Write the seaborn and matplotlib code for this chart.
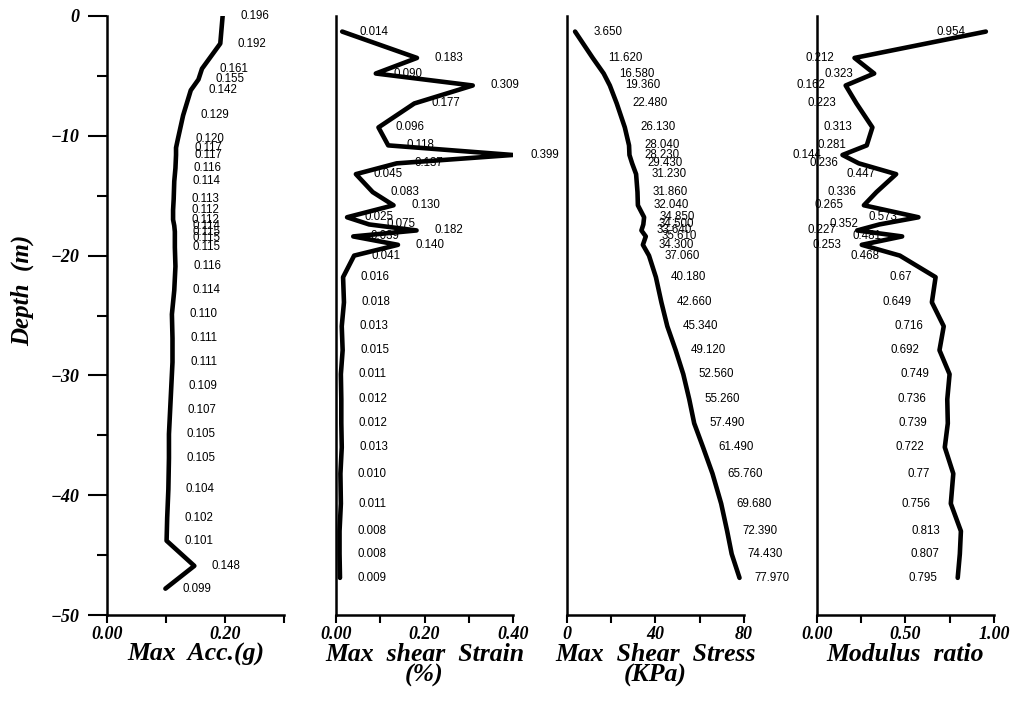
import seaborn as sns
import matplotlib.pyplot as plt
import numpy as np

# depth of the points (m), panel 1 is given at layer boundaries
depth_acc = [0, -2.3, -4.4, -5.3, -6.2, -8.3, -10.3, -11.0, -11.6, -12.7, -13.8,
             -15.3, -16.2, -17.0, -17.5, -18.0, -18.5, -19.3, -20.9, -22.9, -24.9,
             -26.9, -28.9, -30.9, -32.9, -34.9, -36.9, -39.5, -41.9, -43.8, -45.9, -47.8]
max_acc = [0.196, 0.192, 0.161, 0.155, 0.142, 0.129, 0.120, 0.117, 0.117, 0.116, 0.114,
           0.113, 0.112, 0.112, 0.114, 0.115, 0.115, 0.115, 0.116, 0.114, 0.110,
           0.111, 0.111, 0.109, 0.107, 0.105, 0.105, 0.104, 0.102, 0.101, 0.148, 0.099]

# mid-layer depths for the other three panels
depth_mid = [-1.3, -3.5, -4.8, -5.8, -7.3, -9.3, -10.8, -11.6, -12.3, -13.2, -14.7,
             -15.8, -16.8, -17.4, -17.9, -18.4, -19.1, -20.0, -21.8, -23.9, -25.9,
             -27.9, -29.9, -32.0, -34.0, -36.0, -38.2, -40.7, -43.0, -44.9, -46.9]
shear_strain = [0.014, 0.183, 0.090, 0.309, 0.177, 0.096, 0.118, 0.399, 0.137, 0.045, 0.083,
                0.130, 0.025, 0.075, 0.182, 0.039, 0.140, 0.041, 0.016, 0.018, 0.013,
                0.015, 0.011, 0.012, 0.012, 0.013, 0.010, 0.011, 0.008, 0.008, 0.009]
shear_stress = [3.650, 11.620, 16.580, 19.360, 22.480, 26.130, 28.040, 28.230, 29.430, 31.230, 31.860,
                32.040, 34.850, 34.500, 33.640, 35.610, 34.300, 37.060, 40.180, 42.660, 45.340,
                49.120, 52.560, 55.260, 57.490, 61.490, 65.760, 69.680, 72.390, 74.430, 77.970]
modulus = [0.954, 0.212, 0.323, 0.162, 0.223, 0.313, 0.281, 0.144, 0.236, 0.447, 0.336,
           0.265, 0.573, 0.352, 0.227, 0.481, 0.253, 0.468, 0.67, 0.649, 0.716,
           0.692, 0.749, 0.736, 0.739, 0.722, 0.77, 0.756, 0.813, 0.807, 0.795]

panels = [
    dict(x=max_acc, y=depth_acc, fmt="{:.3f}", dx=32, xlim=(0, 0.3),
         ticks=[0, 0.1, 0.2, 0.3], labels=["0.00", "", "0.20", ""],
         title="Max  Acc.(g)"),
    dict(x=shear_strain, y=depth_mid, fmt="{:.3f}", dx=32, xlim=(0, 0.4),
         ticks=[0, 0.1, 0.2, 0.3, 0.4], labels=["0.00", "", "0.20", "", "0.40"],
         title="Max  shear  Strain\n(%)"),
    dict(x=shear_stress, y=depth_mid, fmt="{:.3f}", dx=33, xlim=(0, 80),
         ticks=[0, 20, 40, 60, 80], labels=["0", "", "40", "", "80"],
         title="Max  Shear  Stress\n(KPa)"),
    dict(x=modulus, y=depth_mid, fmt="{:g}", dx=-35, xlim=(0, 1.0),
         ticks=[0, 0.25, 0.5, 0.75, 1.0], labels=["0.00", "", "0.50", "", "1.00"],
         title="Modulus  ratio"),
]
lefts = [107, 336, 567, 817]

sns.set_theme(style="white")
plt.rcParams['font.family'] = ['Liberation Serif', 'DejaVu Serif']
plt.rcParams.update({"text.color": "black", "axes.labelcolor": "black",
                     "xtick.color": "black", "ytick.color": "black"})

fig = plt.figure(figsize=(10.12, 7.16), dpi=100)
W, H = 1012, 716

for i, p in enumerate(panels):
    ax = fig.add_axes([lefts[i] / W, 1 - 615 / H, 177 / W, 599 / H])
    sns.lineplot(x=p["x"], y=p["y"], sort=False, estimator=None, color="black",
                 lw=3.3, ax=ax)
    for v, d in zip(p["x"], p["y"]):
        ax.annotate(p["fmt"].format(v), (v, d), xytext=(p["dx"], 0),
                    textcoords="offset pixels", ha="center", va="center",
                    fontsize=8.3, family="Liberation Sans", color="black",
                    annotation_clip=False)
    ax.set_xlim(*p["xlim"])
    ax.set_ylim(-50, 0)
    ax.set_xticks(p["ticks"])
    ax.set_xticklabels(p["labels"], fontsize=13, fontweight="bold", style="italic")
    ax.tick_params(axis="x", direction="out", length=6, width=1.5, pad=2,
                   bottom=True, color="black")
    for s in ["top", "right"]:
        ax.spines[s].set_visible(False)
    for s in ["left", "bottom"]:
        ax.spines[s].set_color("black")
        ax.spines[s].set_linewidth(1.8)
    ax.set_xlabel(p["title"], fontsize=18.5, fontweight="bold", style="italic",
                  labelpad=0, linespacing=0.85)
    ax.set_ylabel("")
    ax.grid(False)
    if i == 0:
        ax.set_yticks([0, -10, -20, -30, -40, -50])
        ax.set_yticklabels(["0", "\u221210", "\u221220", "\u221230", "\u221240", "\u221250"],
                           fontsize=13, fontweight="bold", style="italic")
        ax.set_yticks([-5, -15, -25, -35, -45], minor=True)
        ax.tick_params(axis="y", which="major", direction="out", length=14,
                       width=1.5, pad=6, left=True, color="black")
        ax.tick_params(axis="y", which="minor", direction="out", length=7,
                       width=1.5, left=True, color="black")
    else:
        ax.set_yticks([])

fig.text(22 / W, 1 - 290 / H, "Depth  (m)", rotation=90, ha="center", va="center",
         fontsize=18, fontweight="bold", style="italic")

fig.savefig("out.png", dpi=100)
